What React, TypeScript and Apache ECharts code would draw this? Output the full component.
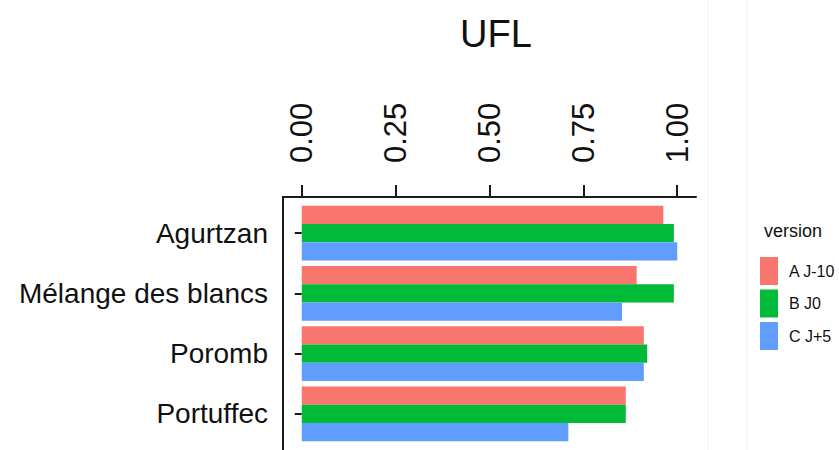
import React, { useEffect, useRef } from "react";
import * as echarts from "echarts";

const categories = ["Agurtzan", "Mélange des blancs", "Poromb", "Portuffec"];
const seriesNames = ["A J-10", "B J0", "C J+5"];
const valuesA = [0.963, 0.892, 0.911, 0.863];
const valuesB = [0.991, 0.991, 0.92, 0.863];
const valuesC = [1.0, 0.853, 0.911, 0.71];
const tickValues = [0, 0.25, 0.5, 0.75, 1.0];
const colors = ["#F8766D", "#00BA38", "#619CFF"];

const FONT = "'Liberation Sans', Arial, sans-serif";

export default function App() {
  const ref = useRef<HTMLDivElement>(null);
  useEffect(() => {
    if (!ref.current) return;
    const chart = echarts.init(ref.current, null, { renderer: "svg" });
    const seriesData = [valuesA, valuesB, valuesC];
    chart.setOption({
      animation: false,
      backgroundColor: "#ffffff",
      textStyle: { fontFamily: FONT },
      title: [
        {
          text: "UFL",
          left: 491,
          top: 10,
          textAlign: "center",
          textStyle: { fontFamily: FONT, fontSize: 38, fontWeight: "normal", color: "#111" },
        },
        {
          text: "version",
          left: 759,
          top: 217,
          textStyle: { fontFamily: FONT, fontSize: 18, fontWeight: "normal", color: "#111" },
        },
      ],
      legend: {
        orient: "vertical",
        left: 760,
        top: 257,
        padding: 0,
        itemWidth: 18,
        itemHeight: 28,
        itemGap: 4.5,
        icon: "rect",
        data: seriesNames,
        textStyle: { fontFamily: FONT, fontSize: 16, color: "#111", padding: [0, 0, 0, 6] },
      },
      grid: { left: 283, right: 143, top: 203, bottom: 6, containLabel: false, outerBoundsMode: "none" },
      xAxis: {
        type: "value",
        position: "top",
        offset: 6,
        min: -0.05,
        max: 1.05,
        axisLine: { show: true, lineStyle: { color: "#1a1a1a", width: 2 } },
        axisTick: { show: true, customValues: tickValues, length: 12, lineStyle: { color: "#1a1a1a", width: 2 } },
        axisLabel: {
          customValues: tickValues,
          rotate: -90,
          margin: 34,
          fontFamily: FONT,
          fontSize: 31,
          color: "#111",
          formatter: (v: number) => v.toFixed(2),
        },
        splitLine: { show: false },
      },
      yAxis: {
        type: "category",
        inverse: true,
        data: categories,
        axisLine: { show: false },
        axisTick: { show: true, alignWithLabel: true, length: 7, lineStyle: { color: "#1a1a1a", width: 2 } },
        axisLabel: { margin: 15, fontFamily: FONT, fontSize: 28, color: "#111" },
        splitLine: { show: false },
      },
      graphic: [
        { type: "line", shape: { x1: 283, y1: 196, x2: 283, y2: 450 }, style: { stroke: "#1a1a1a", lineWidth: 2 } },
        { type: "line", shape: { x1: 708, y1: 0, x2: 708, y2: 450 }, style: { stroke: "#f2f2f2", lineWidth: 1 } },
        { type: "line", shape: { x1: 747, y1: 0, x2: 747, y2: 450 }, style: { stroke: "#f2f2f2", lineWidth: 1 } },
      ],
      series: seriesNames.map((name, i) => ({
        name,
        type: "bar",
        data: seriesData[i],
        barWidth: 18.3,
        barGap: "0%",
        itemStyle: { color: colors[i] },
      })),
    });
    return () => chart.dispose();
  }, []);
  return <div ref={ref} style={{ position: "fixed", left: 0, top: 0, width: 839, height: 450 }} />;
}
